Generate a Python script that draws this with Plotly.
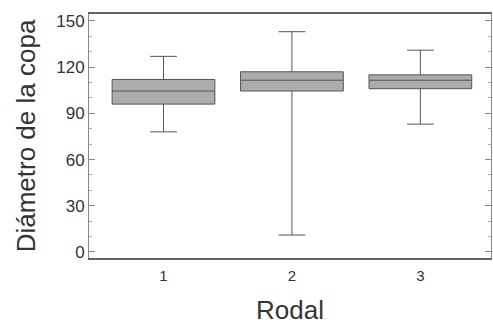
import plotly.graph_objects as go

rodal = [1, 2, 3]
lower = [78, 11, 83]
q1 = [96, 104.5, 106]
median = [104.5, 111.5, 111.5]
q3 = [112, 117, 115]
upper = [127, 143, 131]
yticks = [0, 30, 60, 90, 120, 150]

fig = go.Figure()
fig.add_trace(go.Box(
    x=rodal, q1=q1, median=median, q3=q3, lowerfence=lower, upperfence=upper,
    fillcolor="#acacac", line=dict(color="#555555", width=1),
    width=0.8, whiskerwidth=0.26, boxpoints=False, showlegend=False,
))

fig.update_layout(
    width=493, height=325,
    margin=dict(l=89, r=2, t=14, b=67),
    plot_bgcolor="white", paper_bgcolor="white",
    font=dict(family="Liberation Sans, Arial, sans-serif", color="#333"),
    xaxis=dict(
        range=[0.42, 3.55], tickvals=rodal, ticktext=[str(r) for r in rodal],
        showgrid=False, zeroline=False, showline=True, linecolor="#666", linewidth=2,
        mirror=True, ticks="", tickfont=dict(size=15), automargin=False,
        ticklabelstandoff=3,
        title=dict(text="Rodal", font=dict(size=26), standoff=19),
    ),
    yaxis=dict(
        range=[-3.9, 154.5], tickvals=yticks,
        showgrid=False, zeroline=False, showline=True, linecolor="#888", linewidth=1,
        mirror="ticks", ticks="inside", ticklen=6, tickcolor="#888",
        tickfont=dict(size=17), automargin=False,
        minor=dict(dtick=10, ticks="inside", ticklen=3, tickcolor="#aaa"),
        title=dict(text="Diámetro de la copa", font=dict(size=26), standoff=13),
    ),
)
fig.write_html("out.html", config={"displayModeBar": False},
               post_script="document.body.style.margin='0';")
